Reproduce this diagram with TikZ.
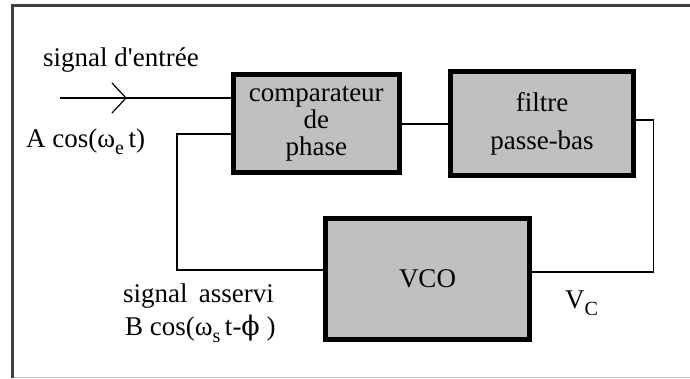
\documentclass[tikz,border=0pt]{standalone}
\usepackage{fontspec}
\setmainfont{Liberation Serif}
\newfontfamily\symfont{DejaVu Serif}
\begin{document}
\begin{tikzpicture}[x=1pt,y=-1pt,
  block/.style={draw=black,line width=5pt,fill={rgb,255:red,192;green,192;blue,192},
    align=center,inner sep=0pt,font=\fontsize{27}{27}\selectfont},
  wire/.style={draw=black,line width=1.2pt},
  lbl/.style={anchor=base west,inner sep=0pt,font=\fontsize{27}{27}\selectfont}]
\newcommand{\lowsub}[1]{\raisebox{-7pt}{\fontsize{20}{20}\selectfont #1}}
\useasboundingbox (0,0) rectangle (690,378);
\fill[white] (0,0) rectangle (690,378);

% sunken frame
\draw[line width=2.5pt,draw={rgb,255:red,64;green,64;blue,64}] (12.5,378) -- (12.5,5.5) -- (690,5.5);
\draw[line width=1.5pt,draw={rgb,255:red,190;green,190;blue,190}] (14,377.3) -- (690,377.3);

% blocks
\node[block,minimum width=165.5pt,minimum height=98pt] (comp) at (316.25,123.5)
  {comparateur\\de\\phase};
\node[block,minimum width=183pt,minimum height=104pt,
  font=\fontsize{27}{38}\selectfont] (filt) at (542,123.5)
  {filtre\\passe-bas};
\node[block,minimum width=204pt,minimum height=121pt] (vco) at (427.5,279) {VCO};

% connectors
\coordinate (in) at (60,98);
\coordinate (tip) at (126,98);
\draw[wire] (in) -- (in -| comp.west);
\draw[wire,line cap=round] ([shift={(-14,-15)}]tip) -- (tip) -- ([shift={(-14,15)}]tip);
\draw[wire] (comp.east |- 0,124) -- (filt.west |- 0,124);
\coordinate (rtop) at (653.5,120);
\coordinate (rbot) at (653.5,272);
\draw[wire] (filt.east |- rtop) -- (rtop) -- (rbot) -- (vco.east |- rbot);
\coordinate (lbot) at (177,270);
\coordinate (ltop) at (177,134);
\draw[wire] (vco.west |- lbot) -- (lbot) -- (ltop) -- (comp.west |- ltop);

% labels
\node[lbl] (tin) at (43,66) {signal d\textquotesingle entrée};
\node[lbl] (ain) at (26,147) {A cos(ω\lowsub{e}\,t)};
\node[lbl] (tout) at (123,302) {signal\, asservi};
\node[lbl] (bout) at (125,335) {B cos(ω\lowsub{s}\,t-{\symfont ϕ} )};
\node[lbl] (vc) at (565,308) {V\lowsub{C}};
\end{tikzpicture}
\end{document}
